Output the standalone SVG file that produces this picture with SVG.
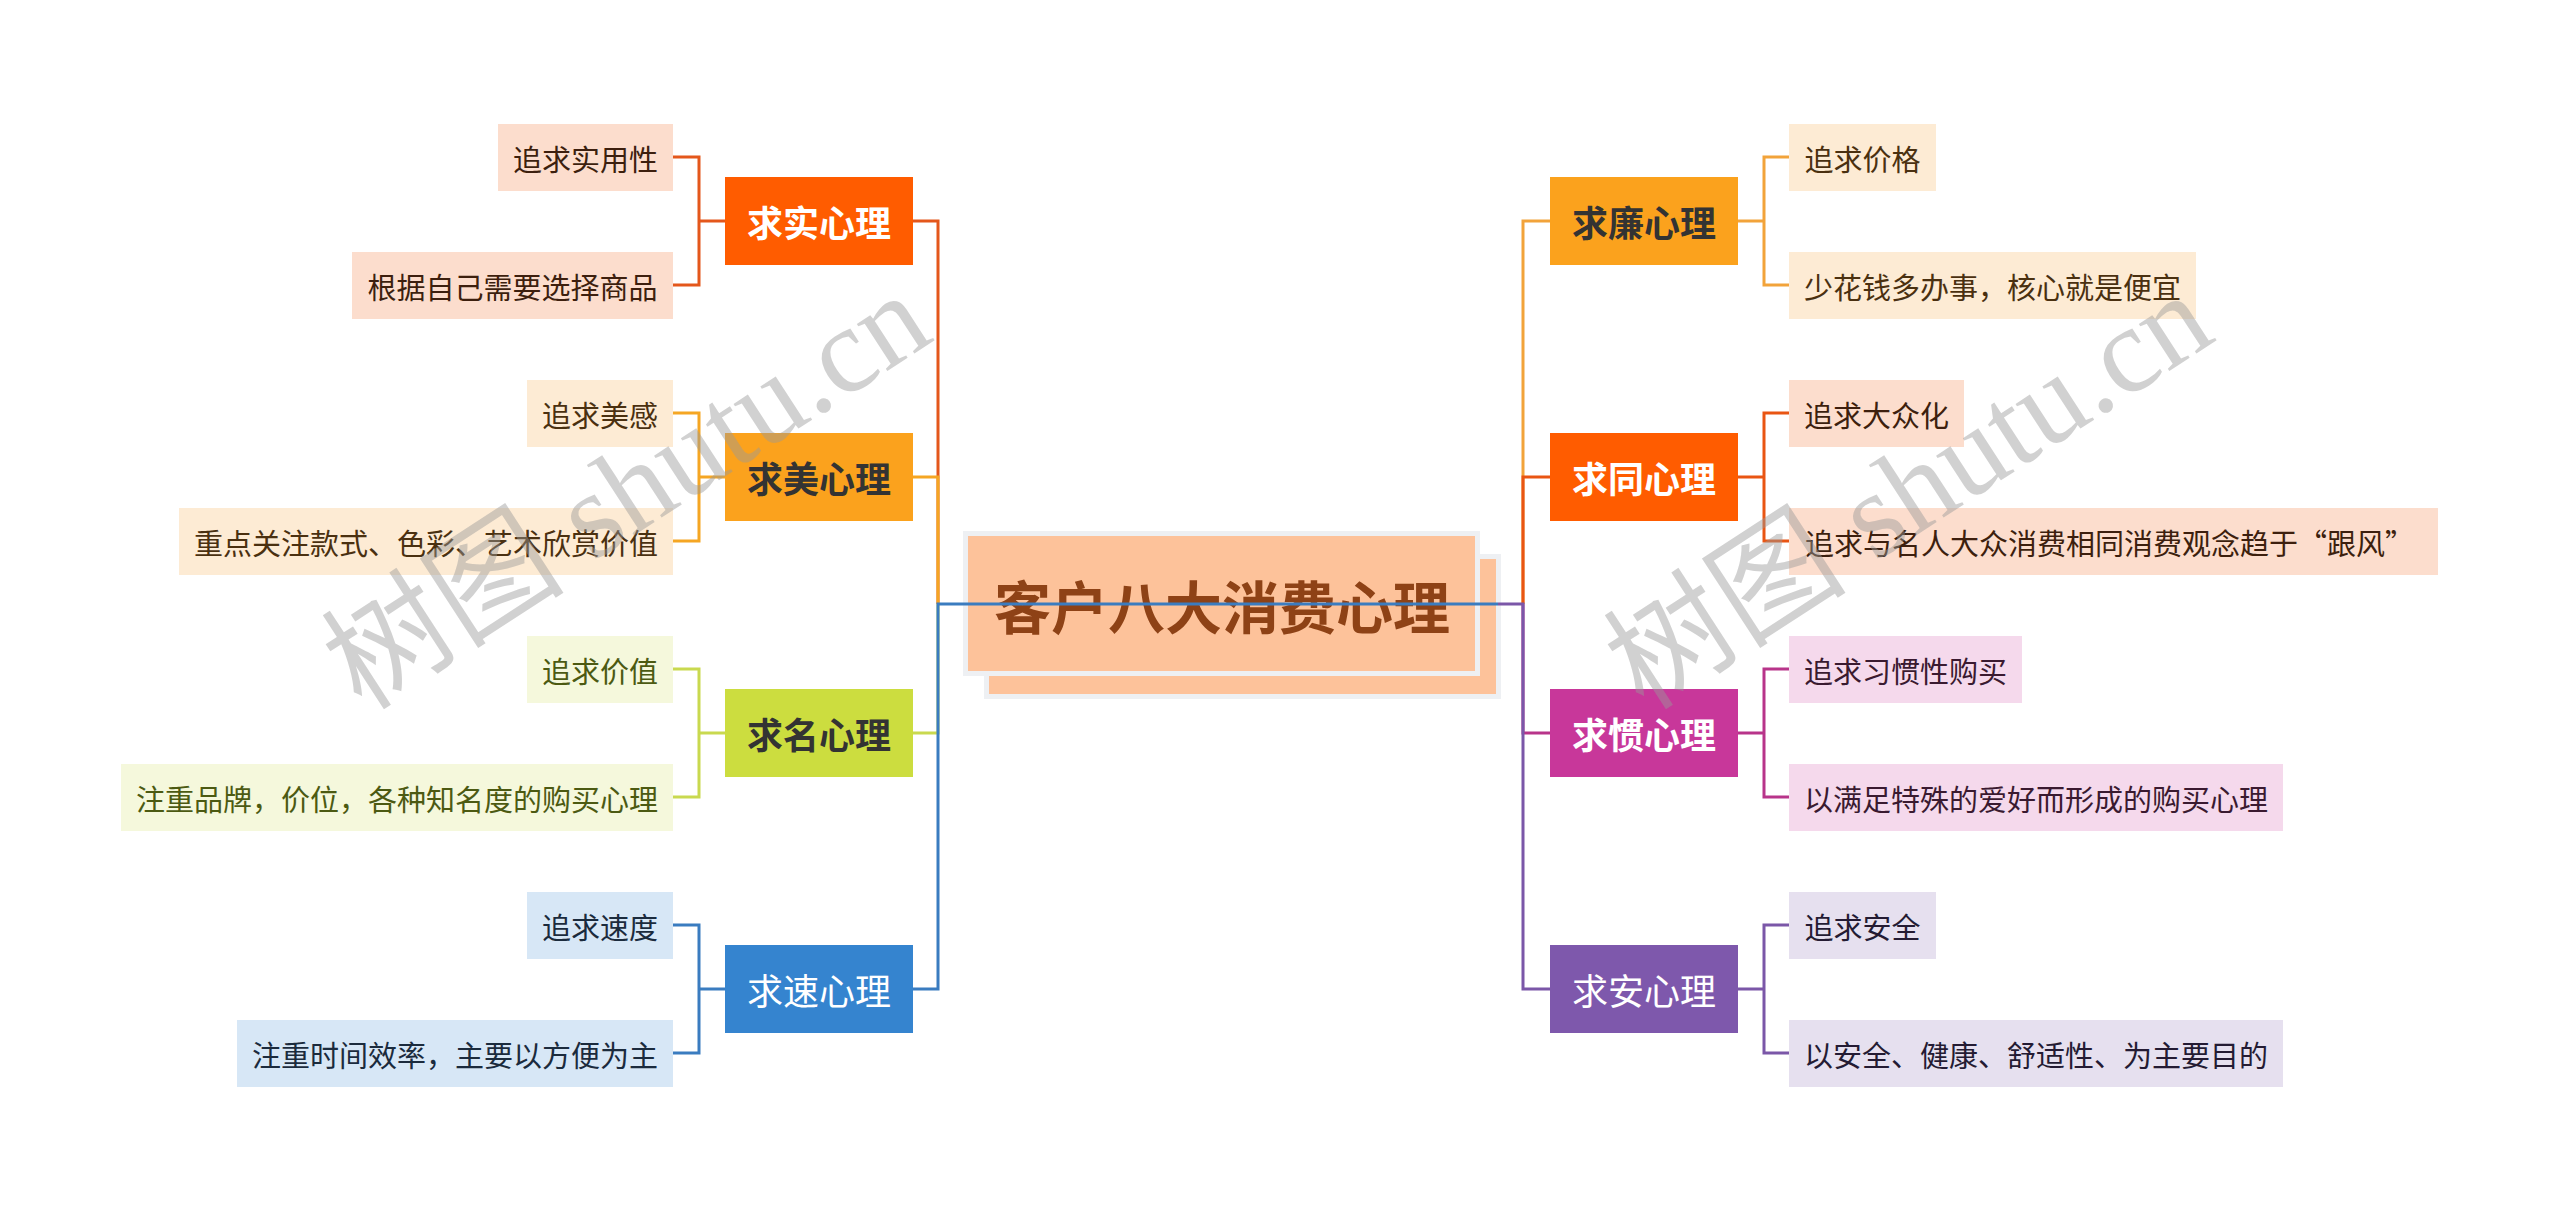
<svg xmlns="http://www.w3.org/2000/svg" width="2560" height="1209" viewBox="0 0 2560 1209">
<style>
text{font-family:"Noto Sans CJK SC","Microsoft YaHei",sans-serif;dominant-baseline:central;text-anchor:middle}
.leaf{font-size:29px}
.l1{font-size:36px;font-weight:bold}
.l1r{font-size:36px;font-weight:normal}
.title{font-size:57px;font-weight:bold;fill:#8E4216}
.c{fill:none;stroke-width:3}
.wm{font-family:"Liberation Serif","Noto Sans CJK SC",serif;font-size:122px;fill:#9a9a9a;fill-opacity:0.45;dominant-baseline:auto;text-anchor:start}
</style>
<rect width="2560" height="1209" fill="#ffffff"/>

<g id="root">
<rect x="984" y="554" width="517" height="145" fill="#EEF0F3"/>
<rect x="989" y="559" width="507" height="135" fill="#FDC29A"/>
<rect x="963" y="531" width="517" height="145" fill="#EEF0F3"/>
<rect x="968" y="536" width="507" height="135" fill="#FDC29A"/>
<text class="title" x="1222" y="604">客户八大消费心理</text>
</g>

<g id="n-qiushi"><rect x="725" y="177" width="188" height="88" fill="#FF5C00"/><text class="l1" x="819" y="221" fill="#ffffff">求实心理</text></g>
<g id="n-qiumei"><rect x="725" y="433" width="188" height="88" fill="#FBA21D"/><text class="l1" x="819" y="477" fill="#333333">求美心理</text></g>
<g id="n-qiuming"><rect x="725" y="689" width="188" height="88" fill="#CCDD3F"/><text class="l1" x="819" y="733" fill="#333333">求名心理</text></g>
<g id="n-qiusu"><rect x="725" y="945" width="188" height="88" fill="#3584CF"/><text class="l1r" x="819" y="989" fill="#ffffff">求速心理</text></g>

<g id="n-qiulian"><rect x="1550" y="177" width="188" height="88" fill="#FBA21D"/><text class="l1" x="1644" y="221" fill="#333333">求廉心理</text></g>
<g id="n-qiutong"><rect x="1550" y="433" width="188" height="88" fill="#FF5C00"/><text class="l1" x="1644" y="477" fill="#ffffff">求同心理</text></g>
<g id="n-qiuguan"><rect x="1550" y="689" width="188" height="88" fill="#C8379A"/><text class="l1" x="1644" y="733" fill="#ffffff">求惯心理</text></g>
<g id="n-qiuan"><rect x="1550" y="945" width="188" height="88" fill="#7E58AC"/><text class="l1r" x="1644" y="989" fill="#ffffff">求安心理</text></g>

<g id="leaf-1"><rect x="498" y="124" width="175" height="67" fill="#FCDDCD"/><text class="leaf" x="585.5" y="157.5" fill="#3D1F0E">追求实用性</text></g>
<g id="leaf-2"><rect x="352" y="252" width="321" height="67" fill="#FCDDCD"/><text class="leaf" x="512.5" y="285.5" fill="#3D1F0E">根据自己需要选择商品</text></g>
<g id="leaf-3"><rect x="527" y="380" width="146" height="67" fill="#FDEBD4"/><text class="leaf" x="600" y="413.5" fill="#4A3010">追求美感</text></g>
<g id="leaf-4"><rect x="179" y="508" width="494" height="67" fill="#FDEBD4"/><text class="leaf" x="426" y="541.5" fill="#4A3010">重点关注款式、色彩、艺术欣赏价值</text></g>
<g id="leaf-5"><rect x="527" y="636" width="146" height="67" fill="#F5F8DC"/><text class="leaf" x="600" y="669.5" fill="#4C5A12">追求价值</text></g>
<g id="leaf-6"><rect x="121" y="764" width="552" height="67" fill="#F5F8DC"/><text class="leaf" x="397" y="797.5" fill="#4C5A12">注重品牌，价位，各种知名度的购买心理</text></g>
<g id="leaf-7"><rect x="527" y="892" width="146" height="67" fill="#D7E7F6"/><text class="leaf" x="600" y="925.5" fill="#1B2B3D">追求速度</text></g>
<g id="leaf-8"><rect x="237" y="1020" width="436" height="67" fill="#D7E7F6"/><text class="leaf" x="455" y="1053.5" fill="#1B2B3D">注重时间效率，主要以方便为主</text></g>

<g id="leaf-9"><rect x="1789" y="124" width="147" height="67" fill="#FDEBD4"/><text class="leaf" x="1862.5" y="157.5" fill="#4A3010">追求价格</text></g>
<g id="leaf-10"><rect x="1789" y="252" width="407" height="67" fill="#FDEBD4"/><text class="leaf" x="1992.5" y="285.5" fill="#4A3010">少花钱多办事，核心就是便宜</text></g>
<g id="leaf-11"><rect x="1789" y="380" width="175" height="67" fill="#FCDDCD"/><text class="leaf" x="1876.5" y="413.5" fill="#3D1F0E">追求大众化</text></g>
<g id="leaf-12"><rect x="1789" y="508" width="649" height="67" fill="#FCDDCD"/><text class="leaf" x="1805" y="541.5" fill="#3D1F0E" style="text-anchor:start">追求与名人大众消费相同消费观念趋于“跟风”</text></g>
<g id="leaf-13"><rect x="1789" y="636" width="233" height="67" fill="#F5D9EC"/><text class="leaf" x="1905.5" y="669.5" fill="#3A1A30">追求习惯性购买</text></g>
<g id="leaf-14"><rect x="1789" y="764" width="494" height="67" fill="#F5D9EC"/><text class="leaf" x="2036" y="797.5" fill="#3A1A30">以满足特殊的爱好而形成的购买心理</text></g>
<g id="leaf-15"><rect x="1789" y="892" width="147" height="67" fill="#E6E0EF"/><text class="leaf" x="1862.5" y="925.5" fill="#241B33">追求安全</text></g>
<g id="leaf-16"><rect x="1789" y="1020" width="494" height="67" fill="#E6E0EF"/><text class="leaf" x="2036" y="1053.5" fill="#241B33">以安全、健康、舒适性、为主要目的</text></g>

<g id="connectors">
<path class="c" stroke="#E4571B" d="M938,604 V221 H913"/>
<path class="c" stroke="#F5A623" d="M938,604 V477 H913"/>
<path class="c" stroke="#C9D94F" d="M938,604 V733 H913"/>
<path class="c" stroke="#3A7CC0" d="M1498,604 H938 V989 H913"/>
<path class="c" stroke="#F2A33A" d="M1523,604 V221 H1550"/>
<path class="c" stroke="#E95513" d="M1523,604 V477 H1550"/>
<path class="c" stroke="#B8348A" d="M1523,604 V733 H1550"/>
<path class="c" stroke="#7B57A8" d="M1498,604 H1523 V989 H1550"/>
<path class="c" stroke="#E4571B" d="M673,157 H699 V285 H673 M699,221 H725"/>
<path class="c" stroke="#F5A623" d="M673,413 H699 V541 H673 M699,477 H725"/>
<path class="c" stroke="#C9D94F" d="M673,669 H699 V797 H673 M699,733 H725"/>
<path class="c" stroke="#3A7CC0" d="M673,925 H699 V1053 H673 M699,989 H725"/>
<path class="c" stroke="#F2A33A" d="M1789,157 H1764 V285 H1789 M1738,221 H1764"/>
<path class="c" stroke="#E95513" d="M1789,413 H1764 V541 H1789 M1738,477 H1764"/>
<path class="c" stroke="#B8348A" d="M1789,669 H1764 V797 H1789 M1738,733 H1764"/>
<path class="c" stroke="#7B57A8" d="M1789,925 H1764 V1053 H1789 M1738,989 H1764"/>
</g>

<g id="watermark">
<text class="wm" x="362" y="712" transform="rotate(-33 362 712)">树图 shutu.cn</text>
<text class="wm" x="1644" y="712" transform="rotate(-33 1644 712)">树图 shutu.cn</text>
</g>
</svg>
